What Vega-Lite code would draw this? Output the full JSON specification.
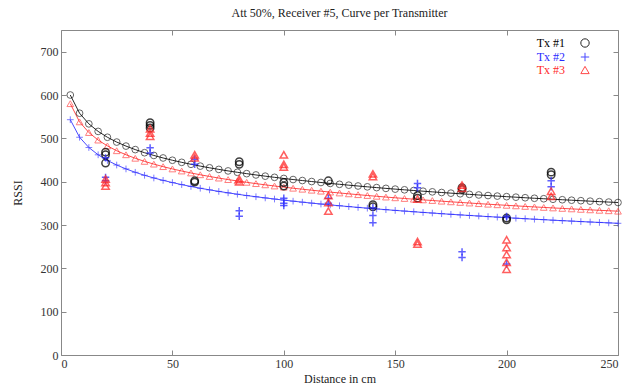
{
  "$schema": "https://vega.github.io/schema/vega-lite/v6.json",
  "autosize": "none",
  "width": 557,
  "height": 325,
  "padding": {"left": 61, "top": 30, "right": 8, "bottom": 37},
  "background": "white",
  "title": {"text": "Att 50%, Receiver #5, Curve per Transmitter", "font": "Liberation Serif", "fontSize": 12, "fontWeight": "normal", "color": "#222", "offset": 10},
  "config": {
    "view": {"stroke": "#888", "strokeWidth": 1},
    "axis": {"labelFont": "Liberation Serif", "labelFontSize": 12, "labelColor": "#333", "titleFont": "Liberation Serif", "titleFontSize": 12, "titleFontWeight": "normal", "titleColor": "#222", "domain": false, "grid": false, "tickColor": "#888", "tickSize": -5, "labelPadding": 8}
  },
  "datasets": {
    "curve": [
      {"d": 4.17, "Tx #1": 600, "Tx #2": 543, "Tx #3": 580},
      {"d": 8.33, "Tx #1": 558, "Tx #2": 502.5, "Tx #3": 538},
      {"d": 12.5, "Tx #1": 533.4, "Tx #2": 478.8, "Tx #3": 513.4},
      {"d": 16.67, "Tx #1": 516, "Tx #2": 462, "Tx #3": 496},
      {"d": 20.83, "Tx #1": 502.5, "Tx #2": 449, "Tx #3": 482.5},
      {"d": 25, "Tx #1": 491.4, "Tx #2": 438.4, "Tx #3": 471.4},
      {"d": 29.17, "Tx #1": 482.1, "Tx #2": 429.4, "Tx #3": 462.1},
      {"d": 33.33, "Tx #1": 474, "Tx #2": 421.6, "Tx #3": 454},
      {"d": 37.5, "Tx #1": 466.8, "Tx #2": 414.7, "Tx #3": 446.8},
      {"d": 41.67, "Tx #1": 460.5, "Tx #2": 408.5, "Tx #3": 440.5},
      {"d": 45.83, "Tx #1": 454.7, "Tx #2": 403, "Tx #3": 434.7},
      {"d": 50, "Tx #1": 449.4, "Tx #2": 397.9, "Tx #3": 429.4},
      {"d": 54.17, "Tx #1": 444.6, "Tx #2": 393.2, "Tx #3": 424.6},
      {"d": 58.33, "Tx #1": 440.1, "Tx #2": 388.9, "Tx #3": 420.1},
      {"d": 62.5, "Tx #1": 435.9, "Tx #2": 384.8, "Tx #3": 415.9},
      {"d": 66.67, "Tx #1": 432, "Tx #2": 381.1, "Tx #3": 412},
      {"d": 70.83, "Tx #1": 428.3, "Tx #2": 377.5, "Tx #3": 408.3},
      {"d": 75, "Tx #1": 424.8, "Tx #2": 374.2, "Tx #3": 404.8},
      {"d": 79.17, "Tx #1": 421.6, "Tx #2": 371, "Tx #3": 401.6},
      {"d": 83.33, "Tx #1": 418.5, "Tx #2": 368, "Tx #3": 398.5},
      {"d": 87.5, "Tx #1": 415.5, "Tx #2": 365.2, "Tx #3": 395.5},
      {"d": 91.67, "Tx #1": 412.7, "Tx #2": 362.5, "Tx #3": 392.7},
      {"d": 95.83, "Tx #1": 410, "Tx #2": 359.9, "Tx #3": 390},
      {"d": 100, "Tx #1": 407.4, "Tx #2": 357.4, "Tx #3": 387.4},
      {"d": 104.17, "Tx #1": 404.9, "Tx #2": 355, "Tx #3": 384.9},
      {"d": 108.33, "Tx #1": 402.6, "Tx #2": 352.7, "Tx #3": 382.6},
      {"d": 112.5, "Tx #1": 400.3, "Tx #2": 350.5, "Tx #3": 380.3},
      {"d": 116.67, "Tx #1": 398.1, "Tx #2": 348.4, "Tx #3": 378.1},
      {"d": 120.83, "Tx #1": 395.9, "Tx #2": 346.3, "Tx #3": 375.9},
      {"d": 125, "Tx #1": 393.9, "Tx #2": 344.4, "Tx #3": 373.9},
      {"d": 129.17, "Tx #1": 391.9, "Tx #2": 342.5, "Tx #3": 371.9},
      {"d": 133.33, "Tx #1": 390, "Tx #2": 340.6, "Tx #3": 370},
      {"d": 137.5, "Tx #1": 388.1, "Tx #2": 338.8, "Tx #3": 368.1},
      {"d": 141.67, "Tx #1": 386.3, "Tx #2": 337.1, "Tx #3": 366.3},
      {"d": 145.83, "Tx #1": 384.5, "Tx #2": 335.4, "Tx #3": 364.5},
      {"d": 150, "Tx #1": 382.8, "Tx #2": 333.7, "Tx #3": 362.8},
      {"d": 154.17, "Tx #1": 381.2, "Tx #2": 332.1, "Tx #3": 361.2},
      {"d": 158.33, "Tx #1": 379.6, "Tx #2": 330.6, "Tx #3": 359.6},
      {"d": 162.5, "Tx #1": 378, "Tx #2": 329, "Tx #3": 358},
      {"d": 166.67, "Tx #1": 376.5, "Tx #2": 327.6, "Tx #3": 356.5},
      {"d": 170.83, "Tx #1": 375, "Tx #2": 326.1, "Tx #3": 355},
      {"d": 175, "Tx #1": 373.5, "Tx #2": 324.7, "Tx #3": 353.5},
      {"d": 179.17, "Tx #1": 372.1, "Tx #2": 323.3, "Tx #3": 352.1},
      {"d": 183.33, "Tx #1": 370.7, "Tx #2": 322, "Tx #3": 350.7},
      {"d": 187.5, "Tx #1": 369.3, "Tx #2": 320.7, "Tx #3": 349.3},
      {"d": 191.67, "Tx #1": 368, "Tx #2": 319.4, "Tx #3": 348},
      {"d": 195.83, "Tx #1": 366.7, "Tx #2": 318.2, "Tx #3": 346.7},
      {"d": 200, "Tx #1": 365.4, "Tx #2": 316.9, "Tx #3": 345.4},
      {"d": 204.17, "Tx #1": 364.2, "Tx #2": 315.7, "Tx #3": 344.2},
      {"d": 208.33, "Tx #1": 362.9, "Tx #2": 314.5, "Tx #3": 342.9},
      {"d": 212.5, "Tx #1": 361.7, "Tx #2": 313.4, "Tx #3": 341.7},
      {"d": 216.67, "Tx #1": 360.6, "Tx #2": 312.3, "Tx #3": 340.6},
      {"d": 220.83, "Tx #1": 359.4, "Tx #2": 311.1, "Tx #3": 339.4},
      {"d": 225, "Tx #1": 358.3, "Tx #2": 310, "Tx #3": 338.3},
      {"d": 229.17, "Tx #1": 357.2, "Tx #2": 309, "Tx #3": 337.2},
      {"d": 233.33, "Tx #1": 356.1, "Tx #2": 307.9, "Tx #3": 336.1},
      {"d": 237.5, "Tx #1": 355, "Tx #2": 306.9, "Tx #3": 335},
      {"d": 241.67, "Tx #1": 353.9, "Tx #2": 305.9, "Tx #3": 333.9},
      {"d": 245.83, "Tx #1": 352.9, "Tx #2": 304.9, "Tx #3": 332.9},
      {"d": 250, "Tx #1": 351.9, "Tx #2": 303.9, "Tx #3": 331.9}
    ],
    "meas": [
      {"tx": "Tx #1", "d": 20, "rssi": 468}, {"tx": "Tx #1", "d": 20, "rssi": 462}, {"tx": "Tx #1", "d": 20, "rssi": 443},
      {"tx": "Tx #1", "d": 40, "rssi": 536}, {"tx": "Tx #1", "d": 40, "rssi": 530}, {"tx": "Tx #1", "d": 40, "rssi": 524},
      {"tx": "Tx #1", "d": 60, "rssi": 402}, {"tx": "Tx #1", "d": 60, "rssi": 399},
      {"tx": "Tx #1", "d": 80, "rssi": 446}, {"tx": "Tx #1", "d": 80, "rssi": 440},
      {"tx": "Tx #1", "d": 100, "rssi": 398}, {"tx": "Tx #1", "d": 100, "rssi": 390},
      {"tx": "Tx #1", "d": 120, "rssi": 402},
      {"tx": "Tx #1", "d": 140, "rssi": 347}, {"tx": "Tx #1", "d": 140, "rssi": 342},
      {"tx": "Tx #1", "d": 160, "rssi": 368}, {"tx": "Tx #1", "d": 160, "rssi": 362},
      {"tx": "Tx #1", "d": 180, "rssi": 386}, {"tx": "Tx #1", "d": 180, "rssi": 382},
      {"tx": "Tx #1", "d": 200, "rssi": 316}, {"tx": "Tx #1", "d": 200, "rssi": 312},
      {"tx": "Tx #1", "d": 220, "rssi": 422}, {"tx": "Tx #1", "d": 220, "rssi": 416},
      {"tx": "Tx #2", "d": 20, "rssi": 455}, {"tx": "Tx #2", "d": 20, "rssi": 410}, {"tx": "Tx #2", "d": 20, "rssi": 402},
      {"tx": "Tx #2", "d": 40, "rssi": 478}, {"tx": "Tx #2", "d": 40, "rssi": 466},
      {"tx": "Tx #2", "d": 60, "rssi": 452}, {"tx": "Tx #2", "d": 60, "rssi": 440},
      {"tx": "Tx #2", "d": 80, "rssi": 333}, {"tx": "Tx #2", "d": 80, "rssi": 320},
      {"tx": "Tx #2", "d": 100, "rssi": 362}, {"tx": "Tx #2", "d": 100, "rssi": 350}, {"tx": "Tx #2", "d": 100, "rssi": 345},
      {"tx": "Tx #2", "d": 120, "rssi": 362}, {"tx": "Tx #2", "d": 120, "rssi": 350},
      {"tx": "Tx #2", "d": 140, "rssi": 340}, {"tx": "Tx #2", "d": 140, "rssi": 322}, {"tx": "Tx #2", "d": 140, "rssi": 305},
      {"tx": "Tx #2", "d": 160, "rssi": 396}, {"tx": "Tx #2", "d": 160, "rssi": 386},
      {"tx": "Tx #2", "d": 180, "rssi": 238}, {"tx": "Tx #2", "d": 180, "rssi": 225},
      {"tx": "Tx #2", "d": 200, "rssi": 320}, {"tx": "Tx #2", "d": 200, "rssi": 210},
      {"tx": "Tx #2", "d": 220, "rssi": 402}, {"tx": "Tx #2", "d": 220, "rssi": 388},
      {"tx": "Tx #3", "d": 20, "rssi": 406}, {"tx": "Tx #3", "d": 20, "rssi": 398}, {"tx": "Tx #3", "d": 20, "rssi": 390},
      {"tx": "Tx #3", "d": 40, "rssi": 522}, {"tx": "Tx #3", "d": 40, "rssi": 512}, {"tx": "Tx #3", "d": 40, "rssi": 505},
      {"tx": "Tx #3", "d": 60, "rssi": 462}, {"tx": "Tx #3", "d": 60, "rssi": 455},
      {"tx": "Tx #3", "d": 80, "rssi": 406}, {"tx": "Tx #3", "d": 80, "rssi": 400},
      {"tx": "Tx #3", "d": 100, "rssi": 462}, {"tx": "Tx #3", "d": 100, "rssi": 440}, {"tx": "Tx #3", "d": 100, "rssi": 434},
      {"tx": "Tx #3", "d": 120, "rssi": 368}, {"tx": "Tx #3", "d": 120, "rssi": 352}, {"tx": "Tx #3", "d": 120, "rssi": 332},
      {"tx": "Tx #3", "d": 140, "rssi": 418}, {"tx": "Tx #3", "d": 140, "rssi": 412},
      {"tx": "Tx #3", "d": 160, "rssi": 360}, {"tx": "Tx #3", "d": 160, "rssi": 262}, {"tx": "Tx #3", "d": 160, "rssi": 256},
      {"tx": "Tx #3", "d": 180, "rssi": 392}, {"tx": "Tx #3", "d": 180, "rssi": 385},
      {"tx": "Tx #3", "d": 200, "rssi": 266}, {"tx": "Tx #3", "d": 200, "rssi": 248}, {"tx": "Tx #3", "d": 200, "rssi": 232}, {"tx": "Tx #3", "d": 200, "rssi": 214}, {"tx": "Tx #3", "d": 200, "rssi": 198},
      {"tx": "Tx #3", "d": 220, "rssi": 378}, {"tx": "Tx #3", "d": 220, "rssi": 366}
    ]
  },
  "layer": [
    {
      "data": {"name": "curve"},
      "transform": [{"fold": ["Tx #1", "Tx #2", "Tx #3"], "as": ["tx", "rssi"]}],
      "mark": {"type": "line", "strokeWidth": 1, "opacity": 0.85, "clip": true},
      "encoding": {
        "x": {"field": "d", "type": "quantitative", "scale": {"domain": [0, 250], "nice": false}, "axis": {"title": "Distance in cm", "values": [0, 50, 100, 150, 200, 250], "orient": "bottom", "titlePadding": 4}},
        "y": {"field": "rssi", "type": "quantitative", "scale": {"domain": [0, 750], "nice": false}, "axis": {"title": "RSSI", "values": [0, 100, 200, 300, 400, 500, 600, 700], "orient": "left", "titlePadding": 16}},
        "color": {"field": "tx", "type": "nominal", "scale": {"domain": ["Tx #1", "Tx #2", "Tx #3"], "range": ["#000000", "#2a2aff", "#ff2a2a"]},
          "legend": {"title": null, "orient": "none", "legendX": 516, "legendY": 5, "padding": 2, "labelFont": "Liberation Serif", "labelFontSize": 12, "labelLimit": 60, "rowPadding": 0, "symbolStrokeWidth": 1, "symbolSize": 70,
            "labelAlign": "right", "labelOffset": -26,
            "labelColor": {"expr": "datum.value == 'Tx #2' ? '#2a2aff' : datum.value == 'Tx #3' ? '#ff2a2a' : '#000000'"}}}
      }
    },
    {
      "data": {"name": "curve"},
      "transform": [{"fold": ["Tx #1", "Tx #2", "Tx #3"], "as": ["tx", "rssi"]}],
      "mark": {"type": "point", "filled": false, "size": 45, "strokeWidth": 1, "opacity": 0.6},
      "encoding": {
        "x": {"field": "d", "type": "quantitative", "axis": null},
        "y": {"field": "rssi", "type": "quantitative", "axis": null},
        "color": {"field": "tx", "type": "nominal", "legend": null},
        "shape": {"field": "tx", "type": "nominal", "legend": null, "scale": {"domain": ["Tx #1", "Tx #2", "Tx #3"], "range": ["circle", "M-1,0H1M0,-1V1", "triangle-up"]}}
      }
    },
    {
      "data": {"name": "meas"},
      "mark": {"type": "point", "filled": false, "size": 55, "strokeWidth": 1.5, "opacity": 0.75},
      "encoding": {
        "x": {"field": "d", "type": "quantitative", "axis": {"orient": "top", "labels": false, "title": null, "values": [0, 50, 100, 150, 200, 250]}},
        "y": {"field": "rssi", "type": "quantitative", "axis": {"orient": "right", "labels": false, "title": null, "values": [0, 100, 200, 300, 400, 500, 600, 700]}},
        "color": {"field": "tx", "type": "nominal", "legend": null},
        "shape": {"field": "tx", "type": "nominal", "legend": null}
      }
    }
  ],
  "resolve": {"axis": {"x": "independent", "y": "independent"}}
}
